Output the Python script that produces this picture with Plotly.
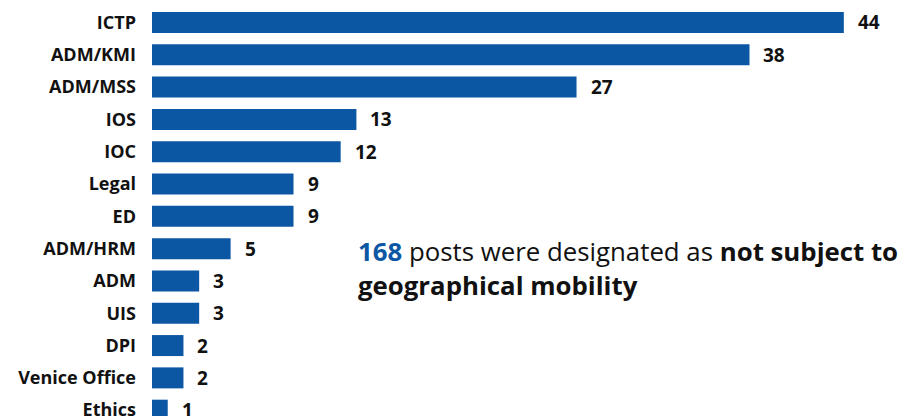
import plotly.graph_objects as go

categories = ["ICTP", "ADM/KMI", "ADM/MSS", "IOS", "IOC", "Legal", "ED",
              "ADM/HRM", "ADM", "UIS", "DPI", "Venice Office", "Ethics"]
values = [44, 38, 27, 13, 12, 9, 9, 5, 3, 3, 2, 2, 1]
total_posts = 168

BLUE = "#0B57A4"
FONT = "Open Sans"

fig = go.Figure(go.Bar(
    x=values, y=categories, orientation="h",
    marker=dict(color=BLUE, line=dict(width=0)),
    hoverinfo="skip",
))

for c, v in zip(categories, values):
    fig.add_annotation(x=v, y=c, xref="x", yref="y", text=f"<b>{v}</b>",
                       showarrow=False, xanchor="left", xshift=12,
                       font=dict(family=FONT, size=19, color="#111111"))

fig.add_annotation(
    xref="paper", yref="paper", x=0.276, y=0.36, xanchor="left", yanchor="middle",
    align="left", showarrow=False,
    text=(f"<b><span style='color:{BLUE}'>{total_posts}</span></b> posts were designated as "
          "<b>not subject to</b><br><b>geographical mobility</b>"),
    font=dict(family=FONT, size=25.8, color="#111111"),
)

fig.update_layout(
    width=904, height=416,
    margin=dict(l=152, r=13, t=6, b=0),
    plot_bgcolor="white", paper_bgcolor="white",
    bargap=0.35, showlegend=False,
    xaxis=dict(range=[0, 47], visible=False, automargin=False),
    yaxis=dict(range=[12.18, -0.51], tickfont=dict(family=FONT, size=18, color="#111111"),
               tickmode="array", tickvals=categories,
               ticktext=[f"<b>{c}</b>" for c in categories],
               ticks="", ticklabelstandoff=15, showgrid=False, zeroline=False,
               showline=False, automargin=False),
    font=dict(family=FONT),
)

fig.write_html("out.html", config={"displayModeBar": False},
               post_script="document.body.style.margin='0';")
